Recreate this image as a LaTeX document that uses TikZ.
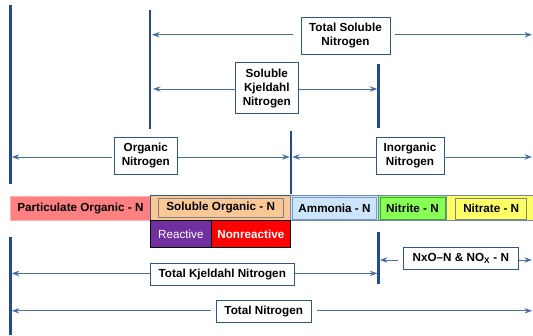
\documentclass[tikz,border=0pt]{standalone}
\usepackage{fontspec}
\setmainfont{Liberation Sans}
\usetikzlibrary{arrows.meta}
\definecolor{barc}{HTML}{234D8A}
\definecolor{arrc}{HTML}{4A6FA5}
\definecolor{boxc}{HTML}{2F5597}
\definecolor{pinkf}{HTML}{FF8080}
\definecolor{pinkb}{HTML}{FFB0B0}
\definecolor{peach}{HTML}{FAC896}
\definecolor{ltblue}{HTML}{CCE5FB}
\definecolor{grn}{HTML}{88FF55}
\definecolor{grnb}{HTML}{4E9E3C}
\definecolor{yel}{HTML}{FFFF66}
\definecolor{purp}{HTML}{7030A0}
\tikzset{
  bar/.style={draw=barc,line width=2.6pt},
  arr/.style={draw=arrc,line width=0.9pt,-{Stealth[length=7.5pt,width=5.5pt]}},
  lbl/.style={draw=boxc,line width=0.8pt,fill=white,inner sep=0pt,align=center,
    font=\fontsize{11.7}{14}\selectfont\bfseries},
  cell/.style={draw=boxc,line width=0.8pt,inner sep=0pt,
    font=\fontsize{11.7}{14}\selectfont\bfseries},
  inner/.style={draw=#1,line width=0.8pt,inner sep=0pt,
    font=\fontsize{11.7}{14}\selectfont\bfseries},
}
\begin{document}
\begin{tikzpicture}[x=1pt,y=-1pt]
\useasboundingbox (0,0) rectangle (533,335);
% vertical bars
\coordinate (b1t) at (10.5,5); \coordinate (b1b) at (10.5,184);
\coordinate (b2t) at (150,10); \coordinate (b2b) at (150,128.6);
\coordinate (b3t) at (291,130.6); \coordinate (b3b) at (291,194);
\coordinate (b4t) at (378.6,64); \coordinate (b4b) at (378.6,127.6);
\coordinate (b5t) at (10.5,237); \coordinate (b5b) at (10.5,335);
\coordinate (b6t) at (378.6,232); \coordinate (b6b) at (378.6,284);
\foreach \a/\b in {b1t/b1b,b2t/b2b,b3t/b3b,b4t/b4b,b5t/b5b,b6t/b6b}
  \draw[bar] (\a) -- (\b);

% label boxes
\node[lbl,minimum width=89pt,minimum height=37pt] (tsn) at (345.5,35.5) {Total Soluble\\Nitrogen};
\node[lbl,minimum width=63.6pt,minimum height=51pt] (skn) at (266.8,88) {Soluble\\Kjeldahl\\Nitrogen};
\node[lbl,minimum width=63.6pt,minimum height=36.6pt] (org) at (145.8,155.7) {Organic\\Nitrogen};
\node[lbl,minimum width=68pt,minimum height=36.6pt] (inorg) at (410,155.7) {Inorganic\\Nitrogen};
\node[lbl,minimum width=144.6pt,minimum height=22.3pt] (tkn) at (222.3,274.2) {Total Kjeldahl Nitrogen};
\node[lbl,minimum width=115.7pt,minimum height=22.3pt] (nxo) at (460.8,258.2) {NxO--N \& NO\textsubscript{X} - N};
\node[lbl,minimum width=95pt,minimum height=21.7pt] (tn) at (263.7,311.2) {Total Nitrogen};

% arrow end points
\coordinate (tsnL) at (152,34.7); \coordinate (tsnR) at (532,34.7);
\coordinate (sknL) at (153,89); \coordinate (sknR) at (377.3,89);
\coordinate (orgL) at (11.8,157); \coordinate (orgR) at (289.7,157);
\coordinate (inoL) at (292.3,157); \coordinate (inoR) at (532,157);
\coordinate (tknL) at (11.8,273.4); \coordinate (tknR) at (377.3,273.4);
\coordinate (nxoL) at (379.9,260); \coordinate (nxoR) at (532,260);
\coordinate (tnL) at (11.8,310.8); \coordinate (tnR) at (532,310.8);

\draw[arr,shorten <=8pt] (tsn.west |- tsnL) -- (tsnL);
\draw[arr,shorten <=5pt] (tsn.east |- tsnR) -- (tsnR);
\draw[arr] (skn.west |- sknL) -- (sknL);
\draw[arr] (skn.east |- sknR) -- (sknR);
\draw[arr,shorten <=2pt] (org.west |- orgL) -- (orgL);
\draw[arr] (org.east |- orgR) -- (orgR);
\draw[arr] (inorg.west |- inoL) -- (inoL);
\draw[arr] (inorg.east |- inoR) -- (inoR);
\draw[arr] (tkn.west |- tknL) -- (tknL);
\draw[arr] (tkn.east |- tknR) -- (tknR);
\draw[arr,shorten <=5pt] (nxo.west |- nxoL) -- (nxoL);
\draw[arr] (nxo.east |- nxoR) -- (nxoR);
\draw[arr,shorten <=5pt] (tn.west |- tnL) -- (tnL);
\draw[arr,shorten <=5pt] (tn.east |- tnR) -- (tnR);

% nitrogen fractions row
\node[draw=pinkb,fill=pinkf,line width=1pt,inner sep=0pt,minimum width=139.3pt,minimum height=24pt,
  font=\fontsize{11.7}{14}\selectfont\bfseries] (part) at (80.4,208) {Particulate Organic - N};
\node[cell,fill=peach,minimum width=141pt,minimum height=25.7pt] (solo) at (220.5,207.9) {};
\node[inner=gray,minimum width=125.3pt,minimum height=19pt] (soloi) at (220.7,207.5) {Soluble Organic - N};
\node[cell,draw=boxc!70,fill=ltblue,minimum width=87.6pt,minimum height=25.7pt] (amm) at (334.5,207.9) {};
\node[inner=boxc!60,minimum width=84pt,minimum height=22pt] (ammi) at (334.5,207.9) {Ammonia - N};
\node[cell,draw=boxc!70,fill=grn,minimum width=68.4pt,minimum height=25.7pt] (nit) at (412.5,207.9) {};
\node[inner=grnb,minimum width=65pt,minimum height=22pt] (niti) at (412.5,207.9) {Nitrite - N};
\node[cell,draw=boxc!70,fill=yel,minimum width=87pt,minimum height=25.7pt] (nat) at (490.2,207.9) {};
\node[inner=gray,minimum width=71pt,minimum height=21.3pt] (nati) at (491.2,208.6) {Nitrate - N};
\node[draw=black,line width=1pt,fill=purp,text=white,inner sep=0pt,minimum width=61.7pt,minimum height=26.3pt,
  font=\fontsize{11.7}{14}\selectfont] (react) at (180.85,233.9) {Reactive};
\node[draw=black,line width=1pt,fill=red,text=white,inner sep=0pt,minimum width=78.3pt,minimum height=26.3pt,
  font=\fontsize{11.7}{14}\selectfont\bfseries] (nonr) at (250.85,233.9) {Nonreactive};
\end{tikzpicture}
\end{document}
